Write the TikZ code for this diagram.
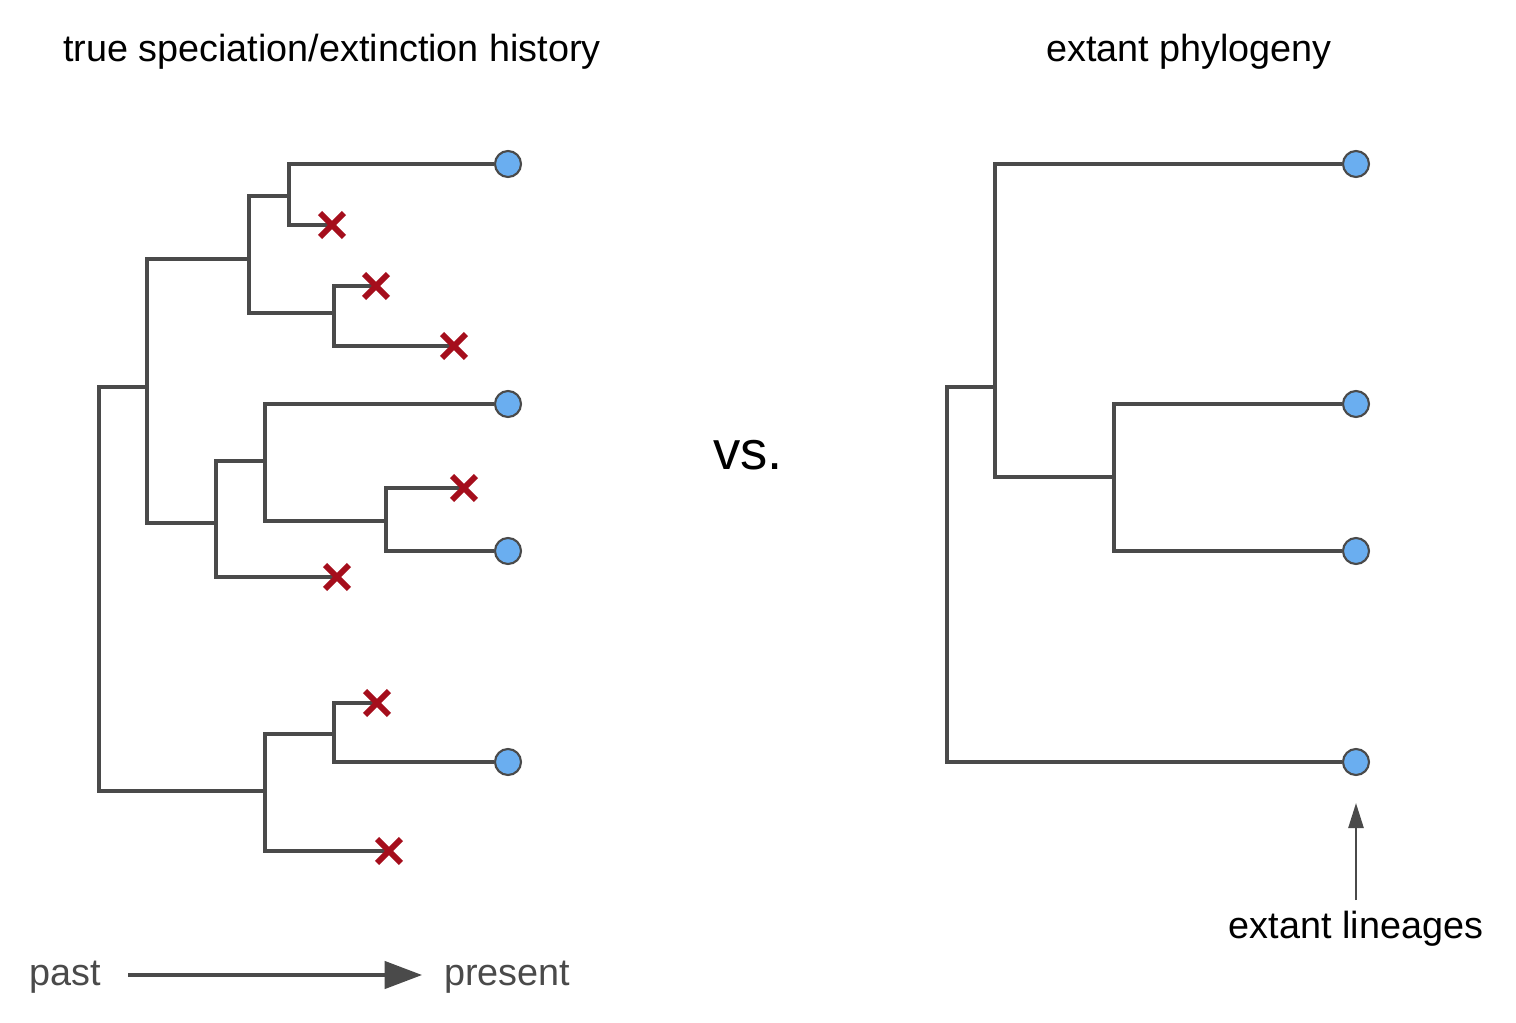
\documentclass[tikz,border=0pt]{standalone}
\usepackage{fontspec}
\setmainfont{Liberation Sans}
\usetikzlibrary{shapes.misc,arrows.meta}
\definecolor{branchgray}{HTML}{4a4a4a}
\definecolor{tipblue}{HTML}{6aaef0}
\definecolor{deadred}{HTML}{a50e1c}
\tikzstyle{tip}=[circle, draw=branchgray, fill=tipblue, line width=1.2pt, minimum size=0.52cm, inner sep=0pt]
\tikzstyle{dead}=[cross out, draw=deadred, line width=3.4pt, minimum size=0.36cm, inner sep=0pt]
\tikzstyle{branch}=[branchgray, line width=2.4pt]
\tikzstyle{lbl}=[font=\fontsize{21.5}{26}\selectfont]

\begin{document}
\begin{tikzpicture}[x=0.02cm, y=-0.02cm]
\useasboundingbox (0,0) rectangle (1516,1022);

% true history
\coordinate (r) at (99,589);
\coordinate (a) at (147,387);
\coordinate (b) at (249,259);
\coordinate (c) at (289,196);
\coordinate (d) at (334,313);
\coordinate (e) at (216,523);
\coordinate (f) at (265,461);
\coordinate (g) at (386,521);
\coordinate (h) at (265,791);
\coordinate (k) at (334,734);

\node[tip] (t1) at (508,164) {};
\node[tip] (t2) at (508,404) {};
\node[tip] (t3) at (508,551) {};
\node[tip] (t4) at (508,762) {};
\coordinate (x1) at (332,225);
\coordinate (x2) at (376,286);
\coordinate (x3) at (454,346);
\coordinate (x4) at (464,488);
\coordinate (x5) at (337,577);
\coordinate (x6) at (377,703);
\coordinate (x7) at (389,851);

\draw[branch] (r) |- (a);
\draw[branch] (r) |- (h);
\draw[branch] (a) |- (b);
\draw[branch] (a) |- (e);
\draw[branch] (b) |- (c);
\draw[branch] (b) |- (d);
\draw[branch] (c) |- (t1.west);
\draw[branch] (c) |- (x1);
\draw[branch] (d) |- (x2);
\draw[branch] (d) |- (x3);
\draw[branch] (e) |- (f);
\draw[branch] (e) |- (x5);
\draw[branch] (f) |- (t2.west);
\draw[branch] (f) |- (g);
\draw[branch] (g) |- (x4);
\draw[branch] (g) |- (t3.west);
\draw[branch] (h) |- (k);
\draw[branch] (h) |- (x7);
\draw[branch] (k) |- (x6);
\draw[branch] (k) |- (t4.west);
\foreach \n in {x1,x2,x3,x4,x5,x6,x7} \node[dead] (d\n) at (\n) {};

% extant tree
\coordinate (rr) at (947,589);
\coordinate (ra) at (995,387);
\coordinate (rb) at (1114,477);
\node[tip] (u1) at (1356,164) {};
\node[tip] (u2) at (1356,404) {};
\node[tip] (u3) at (1356,551) {};
\node[tip] (u4) at (1356,762) {};
\draw[branch] (rr) |- (ra);
\draw[branch] (rr) |- (u4.west);
\draw[branch] (ra) |- (u1.west);
\draw[branch] (ra) |- (rb);
\draw[branch] (rb) |- (u2.west);
\draw[branch] (rb) |- (u3.west);

% labels
\node[lbl] (ttl) at (332,52) {true speciation/extinction history};
\node[lbl] (ttr) at (1189,52) {extant phylogeny};
\node[font=\fontsize{31}{34}\selectfont] (vs) at (748,455) {vs.};
\node[lbl] (ext) at (1356,929) {extant lineages};
\coordinate (extarr) at (1356,900);
\coordinate (exttip) at (1356,803);
\draw[branchgray, line width=1.4pt, -{Triangle[length=0.5cm, width=0.3cm]}] (extarr) -- (exttip);

\node[lbl, text=branchgray] (past) at (65,977) {past};
\node[lbl, text=branchgray] (pres) at (507,977) {present};
\coordinate (pa) at (128,975);
\coordinate (pb) at (422,975);
\draw[branchgray, line width=1.8pt, -{Triangle[length=0.75cm, width=0.55cm]}] (pa) -- (pb);
\end{tikzpicture}
\end{document}
